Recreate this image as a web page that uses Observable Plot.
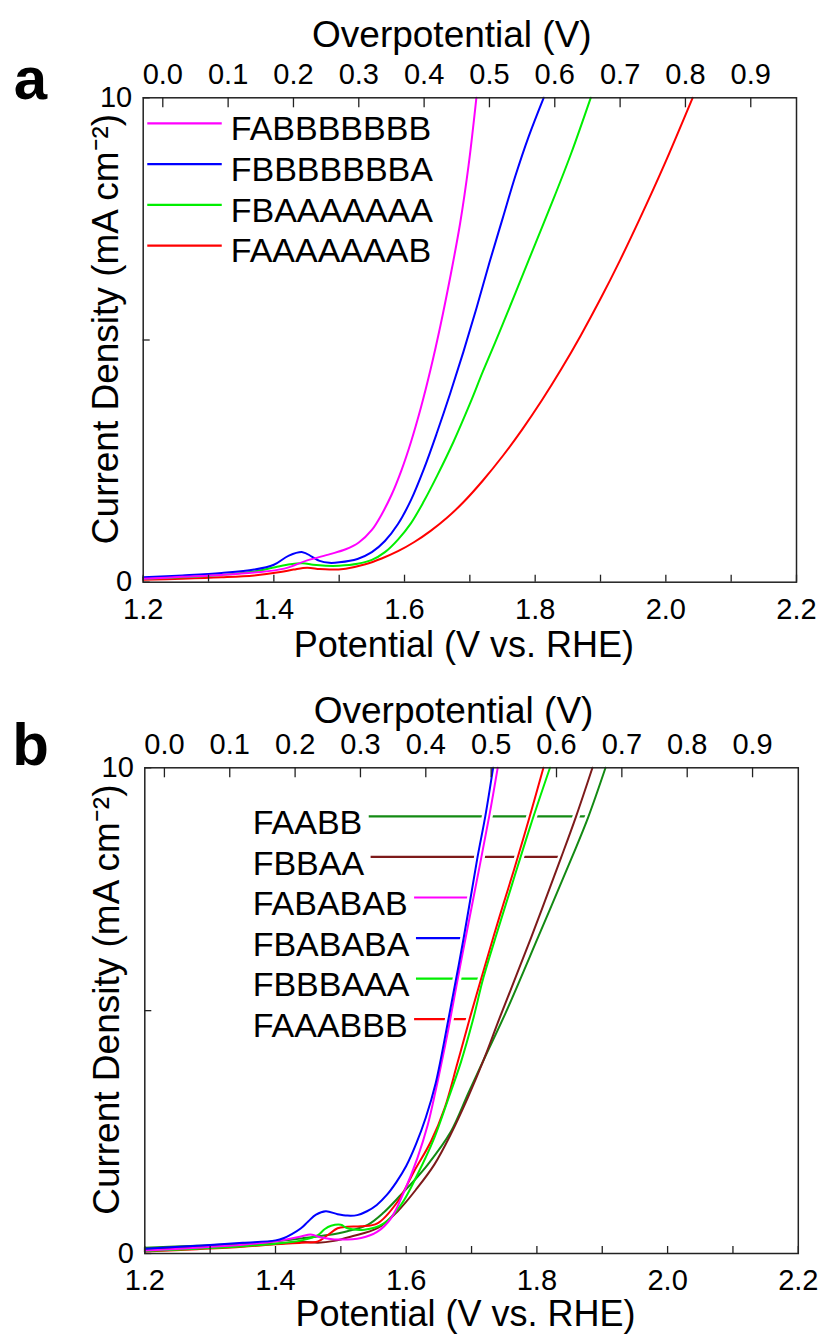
<!DOCTYPE html>
<html><head><meta charset="utf-8">
<script src="https://cdn.jsdelivr.net/npm/d3@7"></script>
<script src="https://cdn.jsdelivr.net/npm/@observablehq/plot@0.6"></script>
<style>
body{margin:0;background:#fff;}
#page{position:relative;width:819px;height:1334px;overflow:hidden;background:#fff;}
.panel{position:absolute;left:0;}
#bar{position:absolute;left:114px;top:0;width:144px;height:8px;background:#6b6b6b;}
</style></head><body>
<div id="page"><div id="bar"></div><div id="pa" class="panel" style="top:0"></div><div id="pb" class="panel" style="top:670px"></div></div>
<script>
// ---------- axis data ----------
const E0 = 1.23; // overpotential = potential - 1.23 V
const overpotentialTicks = [0.0, 0.1, 0.2, 0.3, 0.4, 0.5, 0.6, 0.7, 0.8, 0.9];
const potentialTicks = [1.2, 1.4, 1.6, 1.8, 2.0, 2.2];
const potentialMinorTicks = [1.2, 1.3, 1.4, 1.5, 1.6, 1.7, 1.8, 1.9, 2.0, 2.1, 2.2];
const currentTicks = [0, 5, 10];
const currentTickLabels = [0, 10];

// ---------- panel a data (potential V vs. RHE, current density mA cm-2) ----------
const namesA = ["FABBBBBBB", "FBBBBBBBA", "FBAAAAAAA", "FAAAAAAAB"];
const colorsA = ["#ff00ff", "#0000ff", "#00ee00", "#ff0000"];
const a_FABBBBBBB_V = [1.20, 1.26, 1.32, 1.37, 1.416, 1.451, 1.486, 1.51, 1.53, 1.55, 1.565, 1.58, 1.595, 1.61, 1.625, 1.64, 1.655, 1.67, 1.685, 1.698, 1.71];
const a_FABBBBBBB_J = [0.07, 0.11, 0.15, 0.20, 0.28, 0.45, 0.58, 0.68, 0.82, 1.08, 1.40, 1.80, 2.30, 2.90, 3.6, 4.4, 5.3, 6.3, 7.4, 8.6, 10.0];
const a_FBBBBBBBA_V = [1.20, 1.26, 1.32, 1.37, 1.40, 1.423, 1.444, 1.458, 1.47, 1.485, 1.50, 1.528, 1.55, 1.57, 1.59, 1.61, 1.63, 1.65, 1.67, 1.69, 1.71, 1.73, 1.75, 1.77, 1.79, 1.813];
const a_FBBBBBBBA_J = [0.10, 0.14, 0.19, 0.26, 0.36, 0.55, 0.62, 0.53, 0.44, 0.40, 0.41, 0.48, 0.62, 0.85, 1.2, 1.7, 2.35, 3.1, 3.9, 4.75, 5.65, 6.6, 7.5, 8.4, 9.2, 10.0];
const a_FBAAAAAAA_V = [1.20, 1.26, 1.32, 1.37, 1.402, 1.425, 1.444, 1.46, 1.479, 1.50, 1.528, 1.55, 1.57, 1.59, 1.61, 1.63, 1.65, 1.675, 1.70, 1.72, 1.745, 1.77, 1.80, 1.83, 1.855, 1.885];
const a_FBAAAAAAA_J = [0.07, 0.10, 0.15, 0.22, 0.31, 0.37, 0.39, 0.36, 0.34, 0.34, 0.38, 0.46, 0.62, 0.88, 1.22, 1.68, 2.2, 2.9, 3.68, 4.35, 5.15, 5.98, 6.98, 7.98, 8.85, 10.0];
const a_FAAAAAAAB_V = [1.20, 1.26, 1.32, 1.37, 1.41, 1.43, 1.451, 1.47, 1.486, 1.51, 1.54, 1.565, 1.59, 1.615, 1.64, 1.665, 1.69, 1.72, 1.75, 1.78, 1.81, 1.84, 1.87, 1.90, 1.93, 1.96, 1.997, 2.041];
const a_FAAAAAAAB_J = [0.05, 0.07, 0.10, 0.14, 0.21, 0.26, 0.30, 0.27, 0.26, 0.28, 0.37, 0.49, 0.64, 0.83, 1.06, 1.33, 1.65, 2.1, 2.6, 3.15, 3.75, 4.4, 5.1, 5.85, 6.65, 7.5, 8.6, 10.0];

// ---------- panel b data ----------
const namesB = ["FAABB", "FBBAA", "FABABAB", "FBABABA", "FBBBAAA", "FAAABBB"];
const colorsB = ["#138a13", "#7d1a1a", "#ff00ff", "#0000ff", "#00ee00", "#ff0000"];
const b_FAABB_V = [1.20, 1.28, 1.35, 1.40, 1.44, 1.48, 1.51, 1.541, 1.566, 1.592, 1.612, 1.633, 1.668, 1.695, 1.719, 1.752, 1.803, 1.855, 1.879, 1.905];
const b_FAABB_J = [0.12, 0.16, 0.20, 0.25, 0.31, 0.38, 0.46, 0.59, 0.85, 1.21, 1.5, 1.83, 2.5, 3.3, 4.0, 4.95, 6.55, 8.2, 9.0, 10.0];
const b_FBBAA_V = [1.20, 1.28, 1.35, 1.40, 1.44, 1.465, 1.49, 1.516, 1.556, 1.587, 1.617, 1.643, 1.668, 1.694, 1.719, 1.743, 1.791, 1.837, 1.86, 1.885];
const b_FBBAA_J = [0.08, 0.12, 0.16, 0.20, 0.24, 0.22, 0.26, 0.35, 0.52, 0.87, 1.35, 1.83, 2.45, 3.2, 4.0, 4.85, 6.5, 8.15, 9.0, 10.0];
const b_FABABAB_V = [1.20, 1.28, 1.35, 1.40, 1.439, 1.454, 1.47, 1.49, 1.531, 1.556, 1.577, 1.597, 1.617, 1.633, 1.645, 1.656, 1.665, 1.683, 1.703, 1.727, 1.74];
const b_FABABAB_J = [0.06, 0.12, 0.18, 0.25, 0.35, 0.39, 0.33, 0.29, 0.32, 0.45, 0.73, 1.28, 1.96, 2.65, 3.35, 4.05, 4.65, 5.95, 7.33, 9.0, 10.0];
const b_FBABABA_V = [1.20, 1.28, 1.35, 1.40, 1.413, 1.425, 1.439, 1.45, 1.462, 1.477, 1.495, 1.51, 1.525, 1.54, 1.555, 1.57, 1.585, 1.60, 1.615, 1.63, 1.645, 1.665, 1.688, 1.709, 1.721, 1.733];
const b_FBABABA_J = [0.10, 0.16, 0.22, 0.27, 0.32, 0.40, 0.52, 0.66, 0.80, 0.87, 0.81, 0.78, 0.79, 0.87, 1.0, 1.2, 1.47, 1.8, 2.25, 2.8, 3.5, 4.85, 6.5, 8.15, 9.0, 10.0];
const b_FBBBAAA_V = [1.20, 1.28, 1.35, 1.40, 1.44, 1.465, 1.475, 1.485, 1.50, 1.51, 1.536, 1.566, 1.592, 1.617, 1.643, 1.663, 1.684, 1.702, 1.718, 1.74, 1.762, 1.79, 1.82];
const b_FBBBAAA_J = [0.05, 0.10, 0.15, 0.20, 0.27, 0.38, 0.50, 0.57, 0.59, 0.52, 0.49, 0.62, 1.0, 1.62, 2.38, 3.13, 3.95, 4.8, 5.67, 6.65, 7.6, 8.8, 10.0];
const b_FAAABBB_V = [1.20, 1.28, 1.35, 1.40, 1.44, 1.465, 1.48, 1.495, 1.51, 1.531, 1.556, 1.587, 1.612, 1.638, 1.659, 1.678, 1.697, 1.72, 1.742, 1.765, 1.788, 1.81];
const b_FAAABBB_J = [0.04, 0.09, 0.14, 0.19, 0.22, 0.25, 0.38, 0.52, 0.55, 0.56, 0.62, 1.07, 1.69, 2.31, 3.0, 3.9, 4.83, 5.9, 6.9, 7.9, 8.95, 10.0];

// ---------- build tables ----------
function rows(name, V, J) { return V.map((v, i) => ({name, V: v, j: J[i]})); }
const seriesA = {
  FABBBBBBB: rows("FABBBBBBB", a_FABBBBBBB_V, a_FABBBBBBB_J),
  FBBBBBBBA: rows("FBBBBBBBA", a_FBBBBBBBA_V, a_FBBBBBBBA_J),
  FBAAAAAAA: rows("FBAAAAAAA", a_FBAAAAAAA_V, a_FBAAAAAAA_J),
  FAAAAAAAB: rows("FAAAAAAAB", a_FAAAAAAAB_V, a_FAAAAAAAB_J)
};
const seriesB = {
  FAABB: rows("FAABB", b_FAABB_V, b_FAABB_J),
  FBBAA: rows("FBBAA", b_FBBAA_V, b_FBBAA_J),
  FABABAB: rows("FABABAB", b_FABABAB_V, b_FABABAB_J),
  FBABABA: rows("FBABABA", b_FBABABA_V, b_FBABABA_J),
  FBBBAAA: rows("FBBBAAA", b_FBBBAAA_V, b_FBBBAAA_J),
  FAAABBB: rows("FAAABBB", b_FAAABBB_V, b_FAAABBB_J)
};
const drawA = ["FAAAAAAAB", "FBAAAAAAA", "FBBBBBBBA", "FABBBBBBB"].flatMap(k => seriesA[k]);
const drawB = ["FAABB", "FBBAA", "FAAABBB", "FBBBAAA", "FABABAB", "FBABABA"].flatMap(k => seriesB[k]);

// potential at which a curve reaches current j (upper branch)
function potentialAt(pts, j) {
  for (let i = pts.length - 2; i >= 0; i--) {
    const a = pts[i], b = pts[i + 1];
    if ((a.j - j) * (b.j - j) <= 0 && a.j !== b.j) return a.V + (j - a.j) / (b.j - a.j) * (b.V - a.V);
  }
  return pts[pts.length - 1].V;
}

const FONT = "'Liberation Sans', Arial, Helvetica, sans-serif";
const W = 819;
const ctx = document.createElement("canvas").getContext("2d");
function textWidth(s, size) { ctx.font = size + "px " + FONT; return ctx.measureText(s).width; }

function basePanel(cfg) {
  const innerW = W - cfg.ml - cfg.mr, innerH = cfg.h - cfg.mt - cfg.mb;
  const marks = [
    Plot.tickX(potentialMinorTicks, {x: d => d, insetTop: innerH - 7, stroke: "#222", strokeWidth: 1.3}),
    Plot.tickX(overpotentialTicks, {x: d => d + E0, insetBottom: innerH - 10, stroke: "#222", strokeWidth: 1.3}),
    Plot.tickY(currentTicks, {y: d => d, insetRight: innerW - 7, stroke: "#222", strokeWidth: 1.3}),
    Plot.axisX(potentialTicks, {anchor: "bottom", tickSize: 0, tickPadding: cfg.bottomPad, fontSize: 29, tickFormat: d => d.toFixed(1), label: null}),
    Plot.axisX(overpotentialTicks.map(d => d + E0), {anchor: "top", tickSize: 0, tickPadding: 14, fontSize: 29, tickFormat: d => (d - E0).toFixed(1), label: null}),
    Plot.axisY(currentTickLabels, {anchor: "left", tickSize: 0, tickPadding: 11, fontSize: 29, tickFormat: d => String(d), label: null}),
    Plot.text(["Overpotential (V)"], {frameAnchor: "top", lineAnchor: "middle", textAnchor: "middle", dx: -18, dy: cfg.topTitleDy, fontSize: 37}),
    Plot.text(["Potential (V vs. RHE)"], {frameAnchor: "bottom", lineAnchor: "middle", textAnchor: "middle", dx: -6, dy: cfg.bottomTitleDy, fontSize: 36}),
    Plot.text(["Current Density (mA cm⁻²)"], {frameAnchor: "left", lineAnchor: "middle", textAnchor: "middle", rotate: -90, dx: cfg.yTitleDx, dy: cfg.yTitleDy, fontSize: 37}),
    Plot.text([cfg.letter], {frameAnchor: "top-left", lineAnchor: "middle", textAnchor: "middle", dx: 30 - cfg.ml, dy: cfg.letterDy, fontSize: 60, fontWeight: "bold"}),
  ];
  return {innerW, innerH, marks};
}

// ---------- panel a ----------
{
  const cfg = {h: 670, mt: 97.3, mb: 88.3, ml: 142.7, mr: 23, letter: "a", letterDy: -18, bottomPad: 16, topTitleDy: -63, bottomTitleDy: 63, yTitleDx: -37, yTitleDy: -11};
  const base = basePanel(cfg);
  const legendLayout = {x1: 1.207, x2: 1.321, textX: 1.334, top: 9.47, step: 0.84};
  const legendA = namesA.map((n, i) => ({name: n, y: legendLayout.top - i * legendLayout.step}));
  const chart = Plot.plot({
    width: W, height: cfg.h, marginTop: cfg.mt, marginBottom: cfg.mb, marginLeft: cfg.ml, marginRight: cfg.mr,
    x: {domain: [1.2, 2.2], axis: null},
    y: {domain: [0, 10], axis: null},
    color: {domain: namesA, range: colorsA},
    style: {fontFamily: FONT, color: "#000", background: "#fff", overflow: "visible"},
    marks: [
      Plot.line(drawA, {x: "V", y: "j", z: "name", stroke: "name", strokeWidth: 2, curve: "catmull-rom"}),
      Plot.ruleY(legendA, {y: "y", x1: legendLayout.x1, x2: legendLayout.x2, stroke: "name", strokeWidth: 2.2}),
      Plot.text(legendA, {x: legendLayout.textX, y: "y", text: "name", textAnchor: "start", fontSize: 34, dy: 6}),
      ...base.marks,
      Plot.frame({stroke: "#222", strokeWidth: 1.5})
    ]
  });
  document.getElementById("pa").appendChild(chart);
}

// ---------- panel b ----------
{
  const cfg = {h: 664, mt: 97.3, mb: 81, ml: 144.3, mr: 21.2, letter: "b", letterDy: -22, bottomPad: 16, topTitleDy: -57, bottomTitleDy: 61, yTitleDx: -38, yTitleDy: -11};
  const base = basePanel(cfg);
  const pxPerV = base.innerW / 1.0;
  const leaderLayout = {textX: 1.365, top: 9.0, step: 0.835, gap: 7, fontSize: 34};
  const leaders = namesB.map((n, i) => {
    const y = leaderLayout.top - i * leaderLayout.step;
    return {
      name: n, y,
      x1: leaderLayout.textX + (textWidth(n, leaderLayout.fontSize) + leaderLayout.gap) / pxPerV,
      x2: potentialAt(seriesB[n], y)
    };
  });
  const chart = Plot.plot({
    width: W, height: cfg.h, marginTop: cfg.mt, marginBottom: cfg.mb, marginLeft: cfg.ml, marginRight: cfg.mr,
    x: {domain: [1.2, 2.2], axis: null},
    y: {domain: [0, 10], axis: null},
    color: {domain: namesB, range: colorsB},
    style: {fontFamily: FONT, color: "#000", background: "#fff", overflow: "visible"},
    marks: [
      Plot.ruleY(leaders, {y: "y", x1: "x1", x2: "x2", stroke: "name", strokeWidth: 2.2}),
      Plot.line(drawB, {x: "V", y: "j", z: "name", stroke: "#fff", strokeWidth: 7, curve: "catmull-rom"}),
      Plot.line(drawB, {x: "V", y: "j", z: "name", stroke: "name", strokeWidth: 2, curve: "catmull-rom"}),
      Plot.text(leaders, {x: leaderLayout.textX, y: "y", text: "name", textAnchor: "start", fontSize: leaderLayout.fontSize, dy: 7}),
      ...base.marks,
      Plot.frame({stroke: "#222", strokeWidth: 1.5})
    ]
  });
  document.getElementById("pb").appendChild(chart);
}
</script>
</body></html>
